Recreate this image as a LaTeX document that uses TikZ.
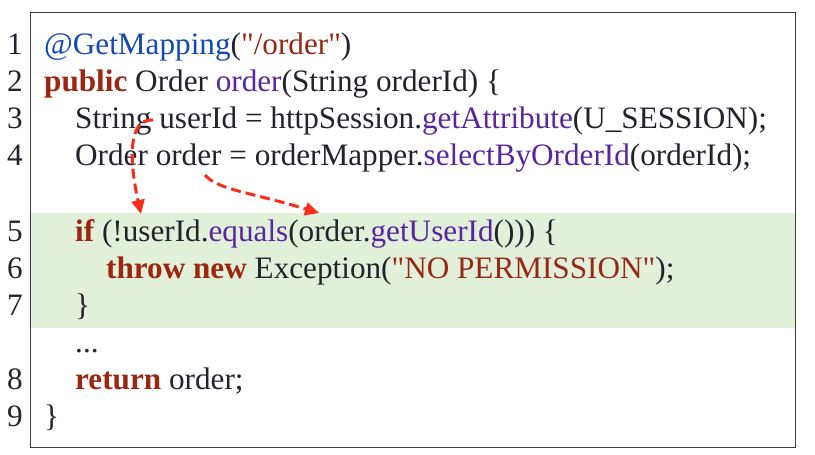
\documentclass[tikz,border=0pt]{standalone}
\usepackage{fontspec}
\setmainfont{Liberation Serif}[Ligatures=TeXOff]
\usetikzlibrary{arrows.meta}
\definecolor{kw}{RGB}{155,38,18}
\definecolor{fn}{RGB}{88,38,160}
\definecolor{an}{RGB}{22,72,180}
\definecolor{tx}{RGB}{35,35,45}
\definecolor{strc}{RGB}{150,40,20}
\definecolor{band}{RGB}{226,240,218}
\definecolor{arr}{RGB}{250,45,25}
\definecolor{frame}{RGB}{60,60,65}
\newcommand{\kwd}[1]{\textcolor{kw}{\bfseries #1}}
\newcommand{\fnc}[1]{\textcolor{fn}{#1}}
\begin{document}
\begin{tikzpicture}[x=1pt,y=-1pt,
  codeline/.style={anchor=base west,inner sep=0pt,text=tx,font=\fontsize{31.2}{37}\selectfont},
  lineno/.style={anchor=base east,inner sep=0pt,text=tx,font=\fontsize{31.2}{37}\selectfont},
  flowarrow/.style={draw=arr,line width=3pt,dash pattern=on 10pt off 5pt,-{Triangle[length=14pt,width=13pt]},fill=none}]
\useasboundingbox (0,0) rectangle (815,455);
\fill[white] (0,0) rectangle (815,455);
\fill[band] (31,213) rectangle (795,328);
\draw[frame,line width=1.2pt] (30.5,12.5) rectangle (795.5,447.5);
% line numbers
\node[lineno] (n1) at (23,54) {1};
\node[lineno] (n2) at (23,91) {2};
\node[lineno] (n3) at (23,128) {3};
\node[lineno] (n4) at (23,165) {4};
\node[lineno] (n5) at (23,241) {5};
\node[lineno] (n6) at (23,278) {6};
\node[lineno] (n7) at (23,315) {7};
\node[lineno] (n8) at (23,389) {8};
\node[lineno] (n9) at (23,426) {9};
% code
\node[codeline] (c1) at (44,54) {\textcolor{an}{@GetMapping}(\textcolor{strc}{"/order"})};
\node[codeline] (c2) at (44,91) {\kwd{public} Order \fnc{order}(String orderId) \{};
\node[codeline] (c3) at (75,128) {String userId = httpSession.\fnc{getAttribute}(U\_SESSION);};
\node[codeline] (c4) at (75,165) {Order order = orderMapper.\fnc{selectByOrderId}(orderId);};
\node[codeline] (c5) at (75,241) {\kwd{if} (!userId.\fnc{equals}(order.\fnc{getUserId}())) \{};
\node[codeline] (c6) at (106,278) {\kwd{throw new} Exception(\textcolor{strc}{"NO PERMISSION"});};
\node[codeline] (c7) at (75,315) {\}};
\node[codeline] (cd) at (75,352) {...};
\node[codeline] (c8) at (75,389) {\kwd{return} order;};
\node[codeline] (c9) at (44,426) {\}};
% arrows
\coordinate (a1s) at (153,120);
\coordinate (a1e) at (141,214);
\coordinate (a2s) at (205,175);
\coordinate (a2e) at (319,213);
\draw[flowarrow] (a1s) .. controls (128,118) and (129,160) .. (a1e);
\draw[flowarrow] (a2s) .. controls (218,190) and (250,192) .. (a2e);
\end{tikzpicture}
\end{document}
